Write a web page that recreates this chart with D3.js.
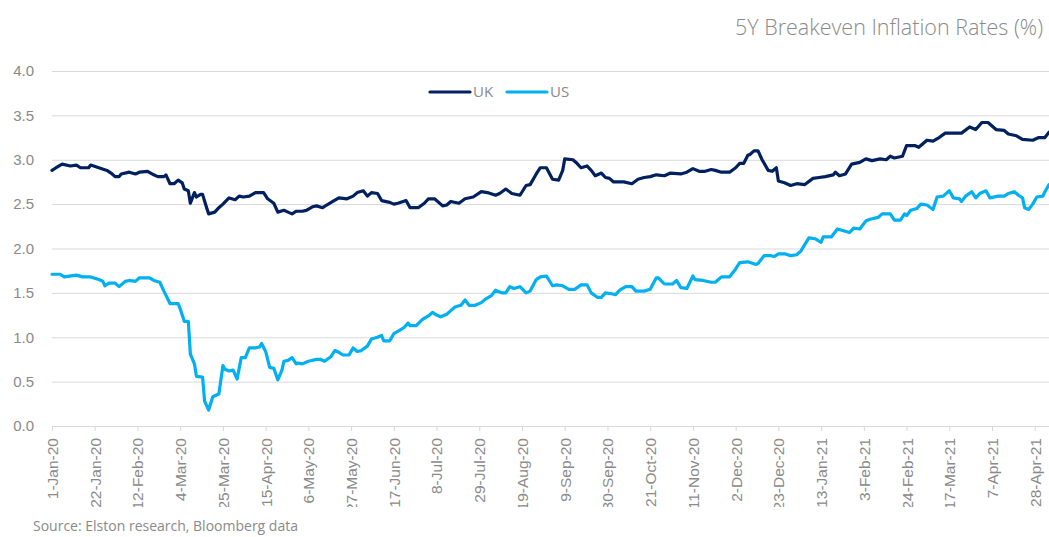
<!DOCTYPE html>
<html>
<head>
<meta charset="utf-8">
<script src="https://cdn.jsdelivr.net/npm/d3@7"></script>
<style>
  body { margin: 0; background: #fff; }
  svg { display: block; font-family: "Open Sans", "Noto Sans", sans-serif; }
</style>
</head>
<body>
<div id="chart"></div>
<script>
const ukDates = ["2020-01-01","2020-01-03","2020-01-06","2020-01-10","2020-01-13","2020-01-15","2020-01-19","2020-01-20","2020-01-24","2020-01-28","2020-01-30","2020-02-01","2020-02-03","2020-02-04","2020-02-08","2020-02-11","2020-02-13","2020-02-17","2020-02-20","2020-02-22","2020-02-25","2020-02-26","2020-02-28","2020-03-01","2020-03-03","2020-03-05","2020-03-06","2020-03-08","2020-03-09","2020-03-10","2020-03-11","2020-03-12","2020-03-14","2020-03-15","2020-03-17","2020-03-18","2020-03-21","2020-03-23","2020-03-25","2020-03-28","2020-03-31","2020-04-02","2020-04-04","2020-04-07","2020-04-10","2020-04-14","2020-04-16","2020-04-19","2020-04-21","2020-04-24","2020-04-26","2020-04-28","2020-04-30",
  "2020-05-03","2020-05-05","2020-05-08","2020-05-10","2020-05-13","2020-05-15","2020-05-18","2020-05-21","2020-05-25","2020-05-28","2020-05-30","2020-06-02","2020-06-04","2020-06-06","2020-06-09","2020-06-11","2020-06-15","2020-06-17","2020-06-19","2020-06-23","2020-06-25","2020-06-29","2020-07-02","2020-07-04","2020-07-07","2020-07-11","2020-07-13","2020-07-15","2020-07-19","2020-07-22","2020-07-26","2020-07-30","2020-08-02","2020-08-06","2020-08-08","2020-08-11","2020-08-14","2020-08-18","2020-08-21","2020-08-23","2020-08-26","2020-08-28",
  "2020-08-31","2020-09-03","2020-09-06","2020-09-08","2020-09-09","2020-09-13","2020-09-15","2020-09-17","2020-09-20","2020-09-22","2020-09-24","2020-09-27","2020-09-29","2020-10-01","2020-10-03","2020-10-08","2020-10-12","2020-10-15","2020-10-18","2020-10-21","2020-10-24","2020-10-28","2020-10-31","2020-11-05","2020-11-08","2020-11-11","2020-11-14","2020-11-17","2020-11-20","2020-11-22","2020-11-25","2020-11-29","2020-12-02","2020-12-04","2020-12-06","2020-12-08","2020-12-09","2020-12-11","2020-12-13","2020-12-15","2020-12-18","2020-12-20","2020-12-22","2020-12-23","2020-12-26","2020-12-29",
  "2021-01-01","2021-01-05","2021-01-09","2021-01-12","2021-01-15","2021-01-19","2021-01-20","2021-01-22","2021-01-25","2021-01-28","2021-02-01","2021-02-04","2021-02-07","2021-02-11","2021-02-14","2021-02-16","2021-02-18","2021-02-22","2021-02-24","2021-02-28","2021-03-02","2021-03-06","2021-03-09","2021-03-12","2021-03-15","2021-03-19","2021-03-23","2021-03-27","2021-03-30","2021-04-02","2021-04-05","2021-04-06","2021-04-09","2021-04-13","2021-04-15","2021-04-19","2021-04-22","2021-04-27","2021-04-30","2021-05-03","2021-05-05"];
const ukValues = [2.88,2.91,2.95,2.93,2.94,2.91,2.91,2.94,2.91,2.88,2.85,2.81,2.81,2.84,2.86,2.84,2.86,2.87,2.83,2.81,2.81,2.83,2.73,2.73,2.77,2.74,2.67,2.65,2.51,2.57,2.63,2.58,2.61,2.61,2.46,2.39,2.41,2.46,2.50,2.57,2.55,2.59,2.58,2.59,2.63,2.63,2.56,2.51,2.41,2.43,2.41,2.39,2.42,
  2.42,2.43,2.47,2.48,2.46,2.49,2.53,2.57,2.56,2.59,2.63,2.65,2.59,2.63,2.62,2.54,2.52,2.50,2.51,2.54,2.46,2.46,2.51,2.56,2.56,2.48,2.49,2.53,2.51,2.56,2.58,2.64,2.63,2.60,2.62,2.67,2.62,2.60,2.71,2.72,2.84,2.91,
  2.91,2.78,2.77,2.88,3.01,3.00,2.96,2.91,2.93,2.88,2.82,2.85,2.80,2.79,2.75,2.75,2.73,2.78,2.80,2.81,2.83,2.82,2.85,2.84,2.86,2.90,2.87,2.87,2.89,2.88,2.86,2.86,2.91,2.96,2.96,3.05,3.06,3.10,3.10,3.00,2.88,2.87,2.91,2.76,2.74,2.71,
  2.73,2.72,2.79,2.80,2.81,2.83,2.86,2.82,2.84,2.95,2.97,3.01,2.99,3.01,3.00,3.04,3.02,3.04,3.16,3.16,3.14,3.22,3.21,3.25,3.30,3.30,3.30,3.37,3.34,3.42,3.42,3.40,3.34,3.33,3.29,3.27,3.23,3.22,3.25,3.25,3.31];

const usDates = ["2020-01-01","2020-01-05","2020-01-07","2020-01-13","2020-01-16","2020-01-20","2020-01-24","2020-01-26","2020-01-27","2020-01-29","2020-02-01","2020-02-03","2020-02-06","2020-02-08","2020-02-11","2020-02-13","2020-02-18","2020-02-20","2020-02-23","2020-02-25","2020-02-28","2020-03-03","2020-03-04","2020-03-06","2020-03-08","2020-03-09","2020-03-11","2020-03-12","2020-03-15","2020-03-16","2020-03-18","2020-03-20","2020-03-23","2020-03-25","2020-03-26","2020-03-28","2020-03-30","2020-04-01","2020-04-03","2020-04-05","2020-04-07","2020-04-10","2020-04-12","2020-04-13","2020-04-15","2020-04-17","2020-04-19","2020-04-21","2020-04-23","2020-04-24","2020-04-26","2020-04-28","2020-04-30",
  "2020-05-01","2020-05-03","2020-05-06","2020-05-10","2020-05-12","2020-05-14","2020-05-17","2020-05-19","2020-05-21","2020-05-23","2020-05-26","2020-05-28","2020-05-30","2020-06-01","2020-06-04","2020-06-06","2020-06-09","2020-06-11","2020-06-12","2020-06-15","2020-06-17","2020-06-20","2020-06-22","2020-06-24","2020-06-25","2020-06-28","2020-07-01","2020-07-04","2020-07-06","2020-07-08","2020-07-10","2020-07-13","2020-07-15","2020-07-17","2020-07-20","2020-07-22","2020-07-24","2020-07-27","2020-07-30","2020-08-01","2020-08-04","2020-08-06","2020-08-09","2020-08-11","2020-08-13","2020-08-15","2020-08-18","2020-08-21","2020-08-23","2020-08-26","2020-08-28",
  "2020-08-31","2020-09-03","2020-09-05","2020-09-08","2020-09-11","2020-09-14","2020-09-17","2020-09-20","2020-09-22","2020-09-25","2020-09-27","2020-09-29","2020-10-02","2020-10-04","2020-10-06","2020-10-09","2020-10-12","2020-10-14","2020-10-18","2020-10-21","2020-10-24","2020-10-25","2020-10-28","2020-11-01","2020-11-03","2020-11-05","2020-11-08","2020-11-11","2020-11-12","2020-11-16","2020-11-20","2020-11-22","2020-11-25","2020-11-29","2020-12-02","2020-12-04","2020-12-08","2020-12-12","2020-12-13","2020-12-16","2020-12-19","2020-12-21","2020-12-23","2020-12-26","2020-12-29",
  "2021-01-01","2021-01-03","2021-01-07","2021-01-10","2021-01-13","2021-01-14","2021-01-18","2021-01-21","2021-01-24","2021-01-27","2021-01-29","2021-02-01","2021-02-04","2021-02-06","2021-02-10","2021-02-12","2021-02-16","2021-02-18","2021-02-21","2021-02-23","2021-02-24","2021-02-26","2021-03-01","2021-03-03","2021-03-06","2021-03-09","2021-03-11","2021-03-14","2021-03-17","2021-03-19","2021-03-22","2021-03-23","2021-03-25","2021-03-28","2021-03-30","2021-04-01","2021-04-04","2021-04-06","2021-04-10","2021-04-13","2021-04-15","2021-04-18","2021-04-20","2021-04-22","2021-04-23","2021-04-25","2021-04-27","2021-04-29","2021-05-02","2021-05-03","2021-05-05"];
const usValues = [1.71,1.71,1.68,1.70,1.68,1.68,1.65,1.63,1.58,1.61,1.61,1.57,1.63,1.64,1.63,1.67,1.67,1.64,1.62,1.52,1.38,1.38,1.32,1.18,1.18,0.81,0.70,0.56,0.55,0.28,0.18,0.33,0.36,0.68,0.64,0.62,0.63,0.53,0.77,0.77,0.88,0.88,0.89,0.93,0.84,0.66,0.65,0.52,0.63,0.73,0.74,0.77,0.70,
  0.71,0.70,0.73,0.75,0.75,0.73,0.78,0.85,0.83,0.80,0.80,0.88,0.84,0.85,0.90,0.98,1.00,1.02,0.96,0.96,1.04,1.08,1.11,1.16,1.13,1.13,1.20,1.24,1.28,1.25,1.23,1.26,1.30,1.34,1.36,1.42,1.36,1.36,1.39,1.43,1.47,1.53,1.50,1.50,1.57,1.55,1.57,1.50,1.52,1.65,1.68,
  1.69,1.58,1.59,1.58,1.54,1.54,1.59,1.59,1.50,1.45,1.45,1.50,1.49,1.48,1.53,1.57,1.57,1.52,1.52,1.54,1.67,1.67,1.60,1.60,1.64,1.56,1.55,1.69,1.65,1.64,1.62,1.62,1.68,1.68,1.77,1.84,1.85,1.82,1.83,1.92,1.92,1.91,1.94,1.94,1.92,
  1.93,1.97,2.12,2.11,2.07,2.13,2.13,2.22,2.20,2.18,2.23,2.22,2.31,2.33,2.35,2.39,2.39,2.32,2.32,2.39,2.37,2.43,2.45,2.50,2.49,2.44,2.58,2.59,2.65,2.57,2.56,2.53,2.59,2.64,2.57,2.62,2.65,2.57,2.59,2.59,2.62,2.64,2.60,2.57,2.46,2.44,2.50,2.58,2.59,2.64,2.72];

const seriesNames = ["UK", "US"];
const seriesColors = ["#002060", "#00b0f0"];
const yTicks = [0, 0.5, 1, 1.5, 2, 2.5, 3, 3.5, 4];
const xStart = "2020-01-01";
const xEnd = "2021-05-05";
const tickStepDays = 21;

const width = 1049, height = 537;
const plotLeft = 52, plotRight = 1049, plotTop = 71, plotBottom = 426;
const gray = "#8a8a8a";

const parse = d3.timeParse("%Y-%m-%d");
const fmt = d3.timeFormat("%-d-%b-%y");

const svg = d3.select("#chart")
    .append("svg")
    .attr("width", width)
    .attr("height", height);

const x = d3.scaleTime()
    .domain([parse(xStart), parse(xEnd)])
    .range([plotLeft, plotRight]);

const y = d3.scaleLinear()
    .domain([0, 4])
    .range([plotBottom, plotTop]);

// gridlines + y labels
const yAxis = svg.append("g")
    .attr("transform", "translate(" + plotLeft + ",0)")
    .call(d3.axisLeft(y).tickValues(yTicks).tickFormat(d3.format(".1f"))
        .tickSize(-(plotRight - plotLeft)).tickPadding(18));
yAxis.select(".domain").remove();
yAxis.selectAll(".tick line").attr("stroke", "#d9d9d9").attr("stroke-width", 1);
yAxis.selectAll(".tick text")
    .attr("fill", gray)
    .attr("font-size", 15);

// x axis, labels cut off at the bottom like the original
svg.append("clipPath").attr("id", "xclip")
    .append("rect").attr("x", 0).attr("y", 0).attr("width", width).attr("height", 507);

const tickDates = d3.timeDay.every(1).range(parse(xStart), d3.timeDay.offset(parse(xEnd), 1))
    .filter((d, i) => i % tickStepDays === 0);

const xWrap = svg.append("g").attr("clip-path", "url(#xclip)");
const xAxis = xWrap.append("g")
    .attr("transform", "translate(0," + plotBottom + ")")
    .call(d3.axisBottom(x).tickValues(tickDates).tickFormat(fmt).tickSize(5).tickSizeOuter(0));
xAxis.select(".domain").attr("stroke", "#d9d9d9");
xAxis.selectAll(".tick line").attr("stroke", "#d9d9d9");
xAxis.selectAll(".tick text")
    .attr("fill", gray)
    .attr("font-size", 15.5)
    .attr("text-anchor", "end")
    .attr("transform", "rotate(-90)")
    .attr("x", -12)
    .attr("y", 0)
    .attr("dy", "0.35em");

// lines
const line = d3.line()
    .x(d => x(d[0]))
    .y(d => y(d[1]));

const ukData = ukDates.map((d, i) => [parse(d), ukValues[i]]);
const usData = usDates.map((d, i) => [parse(d), usValues[i]]);

[ukData, usData].forEach((data, i) => {
    svg.append("path")
        .datum(data)
        .attr("d", line)
        .attr("fill", "none")
        .attr("stroke", seriesColors[i])
        .attr("stroke-width", 3.2)
        .attr("stroke-linejoin", "round")
        .attr("stroke-linecap", "round");
});

// legend
const legendX = [430, 507];
seriesNames.forEach((name, i) => {
    const g = svg.append("g").attr("transform", "translate(" + legendX[i] + ",92)");
    g.append("line")
        .attr("x1", 0).attr("x2", 40)
        .attr("stroke", seriesColors[i])
        .attr("stroke-width", 3.2)
        .attr("stroke-linecap", "round");
    g.append("text")
        .attr("x", 43).attr("y", 5)
        .attr("fill", gray)
        .attr("font-size", 15)
        .text(name);
});

// title + source
svg.append("text")
    .attr("x", 1043).attr("y", 35)
    .attr("text-anchor", "end")
    .attr("fill", gray)
    .attr("font-size", 21.5)
    .attr("font-weight", 300)
    .text("5Y Breakeven Inflation Rates (%)");

svg.append("text")
    .attr("x", 33).attr("y", 531)
    .attr("fill", gray)
    .attr("font-size", 14)
    .text("Source: Elston research, Bloomberg data");
</script>
</body>
</html>
